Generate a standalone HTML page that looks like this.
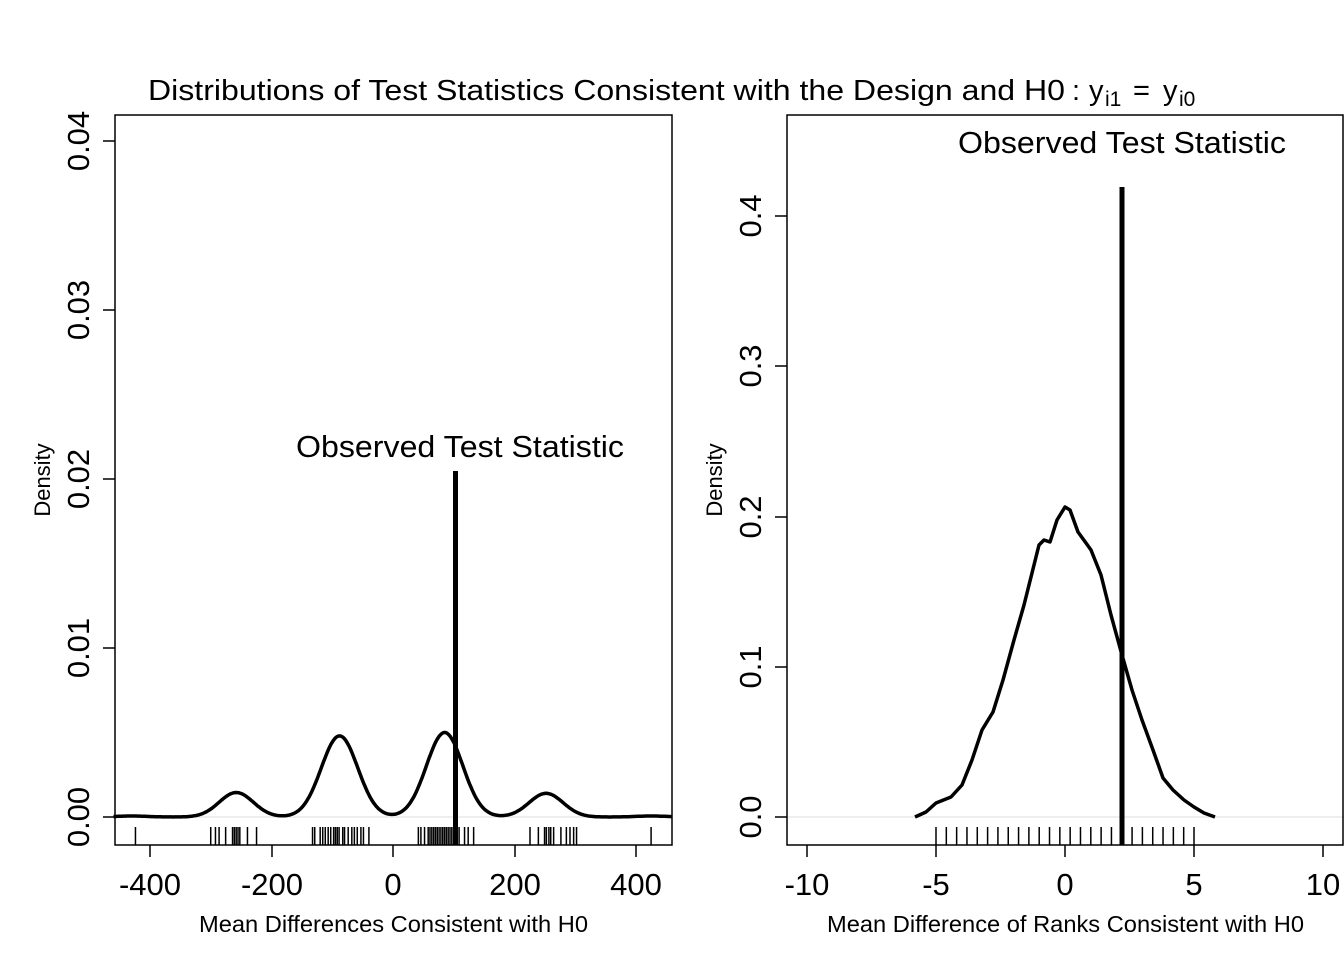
<!DOCTYPE html>
<html><head><meta charset="utf-8"><style>
html,body{margin:0;padding:0;background:#fff;}
svg{display:block;font-family:"Liberation Sans",Arial,sans-serif;}
</style></head><body>
<svg id="s" width="1344" height="960" viewBox="0 0 1344 960" xmlns="http://www.w3.org/2000/svg">
<rect width="1344" height="960" fill="#fff"/>
<text x="148" y="100" font-size="29" textLength="917" lengthAdjust="spacingAndGlyphs">Distributions of Test Statistics Consistent with the Design and H0</text>
<text x="1072" y="100" font-size="29">:</text>
<text x="1089" y="100" font-size="29">y</text><text x="1105" y="106" font-size="21">i1</text>
<text x="1133" y="100" font-size="29">=</text>
<text x="1163" y="100" font-size="29">y</text><text x="1179" y="106" font-size="21">i0</text>
<!-- left panel -->
<line x1="115" y1="817" x2="672" y2="817" stroke="#ddd" stroke-width="1"/>
<rect x="115" y="115" width="557" height="730" fill="none" stroke="#000" stroke-width="1.5"/>
<g stroke="#000" stroke-width="1.5">
<line x1="150" y1="845" x2="150" y2="857"/><line x1="272" y1="845" x2="272" y2="857"/><line x1="393" y1="845" x2="393" y2="857"/><line x1="515" y1="845" x2="515" y2="857"/><line x1="636" y1="845" x2="636" y2="857"/>
<line x1="103" y1="817" x2="115" y2="817"/><line x1="103" y1="648" x2="115" y2="648"/><line x1="103" y1="479" x2="115" y2="479"/><line x1="103" y1="310" x2="115" y2="310"/><line x1="103" y1="141" x2="115" y2="141"/>
</g>
<g font-size="31" text-anchor="middle">
<text x="150" y="895">-400</text><text x="272" y="895">-200</text><text x="393" y="895">0</text><text x="515" y="895">200</text><text x="636" y="895">400</text>
<text transform="translate(89,817) rotate(-90)">0.00</text><text transform="translate(89,648) rotate(-90)">0.01</text><text transform="translate(89,479) rotate(-90)">0.02</text><text transform="translate(89,310) rotate(-90)">0.03</text><text transform="translate(89,141) rotate(-90)">0.04</text>
</g>
<text x="199" y="932" font-size="23" textLength="389" lengthAdjust="spacingAndGlyphs">Mean Differences Consistent with H0</text>
<text transform="translate(50,480) rotate(-90)" font-size="22" text-anchor="middle">Density</text>
<text x="296" y="457" font-size="31" textLength="328" lengthAdjust="spacingAndGlyphs">Observed Test Statistic</text>
<path id="lc" fill="none" stroke="#000" stroke-width="3.5"/>
<g id="lr" stroke="#000" stroke-width="1.5"></g>
<line x1="455.5" y1="471" x2="455.5" y2="845" stroke="#000" stroke-width="5"/>
<!-- right panel -->
<line x1="787" y1="817" x2="1344" y2="817" stroke="#ddd" stroke-width="1"/>
<rect x="787" y="115" width="556" height="730" fill="none" stroke="#000" stroke-width="1.5"/>
<g stroke="#000" stroke-width="1.5">
<line x1="807" y1="845" x2="807" y2="857"/><line x1="936" y1="845" x2="936" y2="857"/><line x1="1065" y1="845" x2="1065" y2="857"/><line x1="1194" y1="845" x2="1194" y2="857"/><line x1="1323" y1="845" x2="1323" y2="857"/>
<line x1="775" y1="817" x2="787" y2="817"/><line x1="775" y1="667" x2="787" y2="667"/><line x1="775" y1="517" x2="787" y2="517"/><line x1="775" y1="366" x2="787" y2="366"/><line x1="775" y1="216" x2="787" y2="216"/>
</g>
<g font-size="31" text-anchor="middle">
<text x="807" y="895">-10</text><text x="936" y="895">-5</text><text x="1065" y="895">0</text><text x="1194" y="895">5</text><text x="1323" y="895">10</text>
<text transform="translate(761,817) rotate(-90)">0.0</text><text transform="translate(761,667) rotate(-90)">0.1</text><text transform="translate(761,517) rotate(-90)">0.2</text><text transform="translate(761,366) rotate(-90)">0.3</text><text transform="translate(761,216) rotate(-90)">0.4</text>
</g>
<text x="827" y="932" font-size="23" textLength="477" lengthAdjust="spacingAndGlyphs">Mean Difference of Ranks Consistent with H0</text>
<text transform="translate(722,480) rotate(-90)" font-size="22" text-anchor="middle">Density</text>
<text x="958" y="153" font-size="31" textLength="328" lengthAdjust="spacingAndGlyphs">Observed Test Statistic</text>
<polyline fill="none" stroke="#000" stroke-width="3.5" stroke-linejoin="round" points="915,817 926,812 936,803 951,797 962,785 972,760 982,730 993,712 1003,680 1014,640 1024,605 1034,565 1039,545 1044,540 1050,542 1057,520 1065,507 1070,510 1078,532 1086,543 1091,550 1101,575 1111,615 1122,655 1132,690 1142,720 1153,750 1163,778 1173,790 1184,800 1194,807 1204,813 1215,817"/>
<g id="rr" stroke="#000" stroke-width="1.5"></g>
<line x1="1122" y1="187" x2="1122" y2="845" stroke="#000" stroke-width="5"/>
</svg>
<script>
var NS="http://www.w3.org/2000/svg";
function px(v){return 393+0.6075*v;}
function py(d){return 817-16900*d;}
var comps=[[-258,0.00145,28],[-88,0.0048,30],[85,0.0050,30],[252,0.0014,28],[-430,0.00006,25],[425,0.00006,25]];
var d="";
for(var v=-460;v<=460;v+=2){var s=0;comps.forEach(function(c){s+=c[1]*Math.exp(-0.5*Math.pow((v-c[0])/c[2],2));});
d+=(v==-460?"M":"L")+px(v).toFixed(1)+","+py(s).toFixed(1);}
document.getElementById("lc").setAttribute("d",d);
var z=[70,277,290,300,318,337,342,347,352,357,378,403,557,563,578,585,592,600,607,615,620,625,630,640,645,655,665,672,680,690,697,712,848,855,865,875,880,885,890,895,900,905,910,915,920,925,930,935,940,945,950,955,960,975,985,1000,1155,1178,1195,1200,1207,1212,1220,1240,1255,1265,1275,1283,1488];
var g=document.getElementById("lr");
z.forEach(function(q){var x=110+q/2.75;var l=document.createElementNS(NS,"line");l.setAttribute("x1",x);l.setAttribute("x2",x);l.setAttribute("y1",827);l.setAttribute("y2",845);g.appendChild(l);});
var g2=document.getElementById("rr");
for(var k=0;k<26;k++){var x=1065+25.8*(-5+0.4*k);var l=document.createElementNS(NS,"line");l.setAttribute("x1",x);l.setAttribute("x2",x);l.setAttribute("y1",827);l.setAttribute("y2",845);g2.appendChild(l);}
</script>
</body></html>
